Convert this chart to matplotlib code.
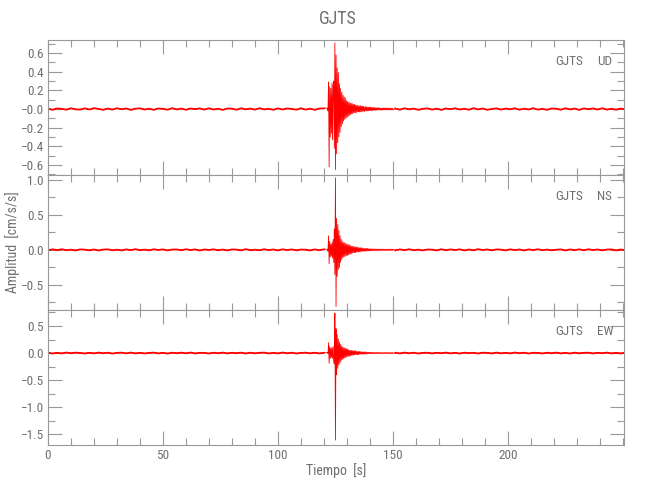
import numpy as np
import matplotlib
matplotlib.use("Agg")
import matplotlib.pyplot as plt
from matplotlib import font_manager
from matplotlib.ticker import MultipleLocator, FixedLocator, FixedFormatter

# narrow, thin font to mimic the IDL hershey look
_names = {f.name for f in font_manager.fontManager.ttflist}
_pick = [n for n in ["Liberation Sans Narrow", "DejaVu Sans Condensed", "Roboto Condensed"]
         if n in _names]
plt.rcParams['font.family'] = _pick + ['DejaVu Sans']

# ---------------------------------------------------------------------------
# DATA  (station GJTS, acceleration cm/s/s)
# ---------------------------------------------------------------------------

station = "GJTS"
components = ["UD", "NS", "EW"]

# quiet background before / after the event, one sample every 2 s
t_pre = np.arange(0.0, 121.0, 2.0)      # 61 samples
t_post = np.arange(151.0, 252.0, 2.0)   # 51 samples
# event window, one sample every 0.25 s
t_evt = np.arange(121.5, 150.01, 0.25)  # 115 samples

ud_pre = [0.004, -0.008, 0.006, 0.002, -0.007, 0.008, -0.003, -0.006, 0.007, -0.005,
          0.009, 0.001, -0.008, 0.005, -0.006, 0.008, -0.002, 0.006, -0.009, 0.004,
          0.007, -0.005, 0.003, -0.008, 0.006, 0.002, -0.007, 0.009, -0.004, 0.005,
          -0.008, 0.006, -0.001, 0.007, -0.006, 0.008, -0.005, 0.003, -0.009, 0.006,
          0.004, -0.007, 0.008, -0.003, 0.005, -0.006, 0.009, -0.004, 0.002, -0.008,
          0.007, -0.005, 0.006, 0.001, -0.007, 0.008, -0.006, 0.004, -0.008, 0.005, 0.007]
ud_evt = [0.01, -0.02, 0.29, -0.62, 0.24, -0.30, 0.22, -0.26, 0.28, -0.33,
          0.25, 0.30, -0.42, 0.71, -0.65, 0.58, -0.48, 0.44, -0.36, 0.39,
          -0.30, 0.27, -0.25, 0.22, -0.19, 0.18, -0.16, 0.15, -0.13, 0.13,
          -0.11, 0.12, -0.10, 0.09, -0.09, 0.08, -0.08, 0.07, -0.07, 0.07,
          -0.06, 0.06, -0.05, 0.06, -0.05, 0.05, -0.04, 0.05, -0.04, 0.04,
          -0.04, 0.04, -0.03, 0.04, -0.03, 0.03, -0.03, 0.04, -0.03, 0.03,
          -0.03, 0.03, -0.02, 0.03, -0.03, 0.02, -0.02, 0.03, -0.02, 0.02,
          -0.02, 0.02, -0.02, 0.02, -0.015, 0.02, -0.02, 0.015, -0.015, 0.02,
          -0.015, 0.015, -0.012, 0.015, -0.015, 0.012, -0.012, 0.015, -0.012, 0.012,
          -0.010, 0.012, -0.012, 0.010, -0.012, 0.010, -0.010, 0.012, -0.010, 0.010,
          -0.010, 0.011, -0.009, 0.010, -0.010, 0.009, -0.010, 0.010, -0.009, 0.010,
          -0.008, 0.009, -0.010, 0.008, -0.009]
ud_post = [0.006, -0.007, 0.008, -0.003, 0.005, -0.008, 0.002, 0.007, -0.006, 0.004,
           -0.009, 0.006, -0.002, 0.008, -0.005, 0.003, -0.007, 0.009, -0.004, 0.006,
           -0.008, 0.001, 0.007, -0.006, 0.005, -0.003, 0.008, -0.007, 0.004, -0.005,
           0.009, -0.006, 0.002, -0.008, 0.006, 0.003, -0.007, 0.008, -0.004, 0.005,
           -0.009, 0.007, -0.002, 0.006, -0.005, 0.008, -0.006, 0.003, -0.007, 0.005, -0.004]

ns_pre = [-0.006, 0.007, -0.003, 0.008, -0.005, 0.002, -0.008, 0.006, 0.003, -0.007,
          0.005, -0.009, 0.004, 0.007, -0.006, 0.002, -0.008, 0.006, -0.004, 0.009,
          -0.005, 0.003, -0.007, 0.008, -0.002, 0.006, -0.008, 0.004, 0.005, -0.006,
          0.008, -0.003, 0.006, -0.009, 0.005, -0.002, 0.007, -0.006, 0.004, -0.008,
          0.006, 0.003, -0.007, 0.009, -0.005, 0.002, -0.006, 0.008, -0.004, 0.005,
          -0.008, 0.007, -0.003, 0.006, -0.007, 0.004, 0.002, -0.008, 0.006, -0.005, 0.007]
ns_evt = [0.01, -0.02, 0.20, -0.20, 0.12, -0.10, 0.08, -0.09, 0.10, -0.12,
          0.15, -0.18, 0.30, -0.35, 1.03, -0.81, 0.45, -0.38, 0.36, -0.28,
          0.28, -0.25, 0.20, -0.18, 0.15, -0.14, 0.12, -0.11, 0.10, -0.10,
          0.10, -0.09, 0.09, -0.08, 0.08, -0.08, 0.08, -0.07, 0.07, -0.06,
          0.06, -0.06, 0.05, -0.05, 0.05, -0.04, 0.05, -0.04, 0.04, -0.04,
          0.04, -0.03, 0.04, -0.03, 0.03, -0.03, 0.03, -0.03, 0.03, -0.02,
          0.03, -0.02, 0.02, -0.02, 0.02, -0.02, 0.02, -0.02, 0.02, -0.015,
          0.02, -0.015, 0.015, -0.015, 0.015, -0.012, 0.015, -0.012, 0.012, -0.012,
          0.012, -0.010, 0.012, -0.010, 0.010, -0.012, 0.010, -0.010, 0.011, -0.009,
          0.010, -0.010, 0.009, -0.010, 0.010, -0.009, 0.010, -0.008, 0.009, -0.010,
          0.008, -0.009, 0.010, -0.008, 0.009, -0.009, 0.010, -0.008, 0.008, -0.009,
          0.010, -0.008, 0.009, -0.010, 0.008]
ns_post = [-0.007, 0.006, -0.004, 0.008, -0.006, 0.003, -0.008, 0.005, 0.002, -0.007,
           0.008, -0.005, 0.006, -0.003, 0.007, -0.008, 0.004, -0.006, 0.009, -0.002,
           0.005, -0.007, 0.006, 0.003, -0.008, 0.007, -0.004, 0.005, -0.009, 0.006,
           -0.003, 0.008, -0.006, 0.004, -0.007, 0.002, 0.006, -0.008, 0.005, -0.004,
           0.007, -0.006, 0.008, -0.003, 0.005, -0.007, 0.004, 0.006, -0.008, 0.005, -0.006]

ew_pre = [0.006, -0.008, 0.004, -0.006, 0.009, -0.003, 0.007, 0.002, -0.008, 0.005,
          -0.006, 0.008, -0.004, 0.006, -0.009, 0.003, 0.007, -0.005, 0.008, -0.006,
          0.004, -0.007, 0.002, 0.008, -0.006, 0.005, -0.009, 0.006, -0.003, 0.007,
          -0.005, 0.009, -0.007, 0.004, 0.003, -0.008, 0.006, -0.004, 0.008, -0.006,
          0.005, -0.002, 0.007, -0.008, 0.006, -0.005, 0.004, 0.008, -0.007, 0.003,
          -0.006, 0.009, -0.004, 0.006, -0.008, 0.002, 0.007, -0.005, 0.006, -0.007, 0.005]
ew_evt = [0.01, -0.01, 0.19, -0.19, 0.12, -0.10, 0.09, -0.08, 0.10, -0.10,
          0.12, -0.15, -0.20, 0.74, -1.61, 0.45, -0.40, 0.34, -0.28, 0.26,
          -0.22, 0.20, -0.18, 0.16, -0.14, 0.13, -0.12, 0.11, -0.10, 0.10,
          -0.09, 0.09, -0.08, 0.08, -0.07, 0.07, -0.06, 0.06, -0.06, 0.05,
          -0.05, 0.05, -0.04, 0.05, -0.04, 0.04, -0.04, 0.04, -0.03, 0.04,
          -0.03, 0.03, -0.03, 0.03, -0.03, 0.03, -0.02, 0.03, -0.02, 0.02,
          -0.02, 0.02, -0.02, 0.02, -0.02, 0.02, -0.015, 0.02, -0.015, 0.015,
          -0.015, 0.015, -0.012, 0.015, -0.012, 0.012, -0.012, 0.012, -0.010, 0.012,
          -0.010, 0.010, -0.012, 0.010, -0.010, 0.011, -0.009, 0.010, -0.010, 0.009,
          -0.010, 0.010, -0.009, 0.010, -0.008, 0.009, -0.010, 0.008, -0.009, 0.010,
          -0.008, 0.009, -0.009, 0.010, -0.008, 0.008, -0.009, 0.010, -0.008, 0.009,
          -0.010, 0.008, -0.009, 0.010, -0.008]
ew_post = [0.005, -0.007, 0.008, -0.004, 0.006, -0.008, 0.003, 0.006, -0.007, 0.005,
           -0.003, 0.008, -0.006, 0.004, -0.009, 0.007, -0.002, 0.005, -0.008, 0.006,
           0.003, -0.007, 0.008, -0.005, 0.004, -0.006, 0.009, -0.003, 0.006, -0.008,
           0.005, 0.002, -0.007, 0.006, -0.004, 0.008, -0.006, 0.003, -0.008, 0.007,
           -0.005, 0.004, 0.006, -0.007, 0.005, -0.003, 0.008, -0.006, 0.004, -0.007, 0.006]

traces = {
    "UD": ud_pre + ud_evt + ud_post,
    "NS": ns_pre + ns_evt + ns_post,
    "EW": ew_pre + ew_evt + ew_post,
}
time = np.concatenate([t_pre, t_evt, t_post])

ylims = {"UD": (-0.707, 0.74), "NS": (-0.86, 1.07), "EW": (-1.70, 0.796)}
ytick_vals = {
    "UD": [0.6, 0.4, 0.2, 0.0, -0.2, -0.4, -0.6],
    "NS": [1.0, 0.5, 0.0, -0.5],
    "EW": [0.5, 0.0, -0.5, -1.0, -1.5],
}
ytick_txt = {
    "UD": ["0.6", "0.4", "0.2", "\u22120.0", "\u22120.2", "\u22120.4", "\u22120.6"],
    "NS": ["1.0", "0.5", "0.0", "\u22120.5"],
    "EW": ["0.5", "0.0", "\u22120.5", "\u22121.0", "\u22121.5"],
}
yminor = {"UD": 0.1, "NS": 0.25, "EW": 0.25}
xticks = [0, 50, 100, 150, 200]

# ---------------------------------------------------------------------------
# PLOT
# ---------------------------------------------------------------------------

axis_col = "#999999"
text_col = "#707070"

fig = plt.figure(figsize=(6.5, 5), dpi=100)
bottoms = [0.65, 0.38, 0.11]

for i, comp in enumerate(components):
    ax = fig.add_axes([0.0738, bottoms[i], 0.886, 0.27])
    ax.plot(time, traces[comp], color="red", lw=0.6)
    # quiet parts drawn a little heavier, like the noisy band of the record
    n_pre = len(t_pre)
    ax.plot(t_pre, traces[comp][:n_pre], color="red", lw=1.3)
    ax.plot(t_post, traces[comp][-len(t_post):], color="red", lw=1.3)
    ax.set_xlim(0, 250.4)
    ax.set_ylim(*ylims[comp])

    ax.xaxis.set_major_locator(FixedLocator(xticks))
    ax.xaxis.set_minor_locator(MultipleLocator(10))
    ax.yaxis.set_major_locator(FixedLocator(ytick_vals[comp]))
    ax.yaxis.set_major_formatter(FixedFormatter(ytick_txt[comp]))
    ax.yaxis.set_minor_locator(MultipleLocator(yminor[comp]))

    ax.tick_params(which="both", direction="in", top=True, right=True,
                   color=axis_col, labelcolor=text_col, labelsize=9.5, width=0.8)
    ax.tick_params(which="major", length=10, pad=3)
    ax.tick_params(which="minor", length=5)
    ax.tick_params(axis="x", labelbottom=(i == 2))
    for s in ax.spines.values():
        s.set_color(axis_col)
        s.set_linewidth(0.8)

    ax.text(0.929, 0.84, station, transform=ax.transAxes, ha="right",
            va="center", fontsize=9.5, color=text_col)
    ax.text(0.953, 0.84, comp, transform=ax.transAxes, ha="left",
            va="center", fontsize=9.5, color=text_col)

fig.text(0.52, 0.963, station, ha="center", va="center", fontsize=13, color=text_col)
fig.text(0.517, 0.058, "Tiempo  [s]", ha="center", va="center", fontsize=10, color=text_col)
fig.text(0.02, 0.516, "Amplitud  [cm/s/s]", ha="center", va="center",
         rotation=90, fontsize=10, color=text_col)

fig.savefig("out.png", dpi=100)
